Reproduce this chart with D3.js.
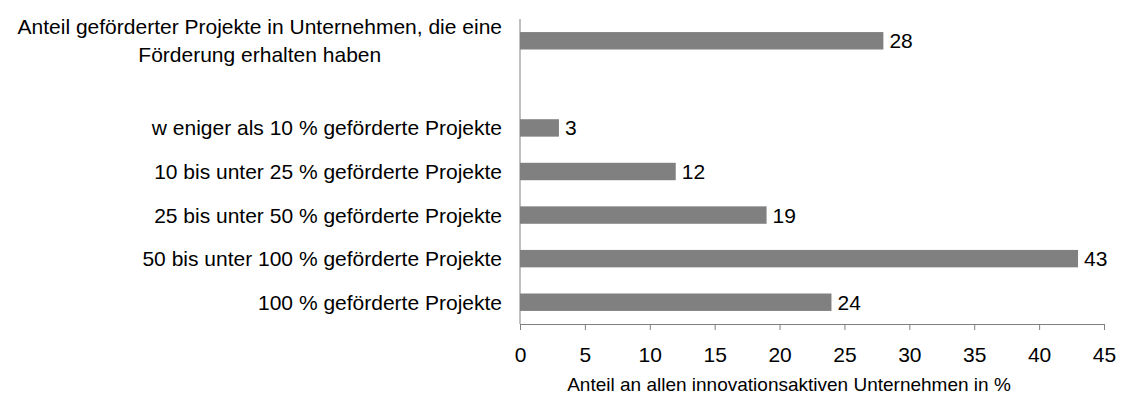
<!DOCTYPE html>
<html>
<head>
<meta charset="utf-8">
<script src="https://cdn.jsdelivr.net/npm/d3@7"></script>
<style>
  html, body { margin: 0; padding: 0; background: #fff; }
  svg { display: block; font-family: "Liberation Sans", Arial, sans-serif; }
</style>
</head>
<body>
<svg id="chart" width="1122" height="399"></svg>
<script>
// Category rows, top to bottom ("" is an empty spacer row)
const categories = [
  "Anteil geförderter Projekte in Unternehmen, die eine|Förderung erhalten haben",
  "",
  "w eniger als 10 % geförderte Projekte",
  "10 bis unter 25 % geförderte Projekte",
  "25 bis unter 50 % geförderte Projekte",
  "50 bis unter 100 % geförderte Projekte",
  "100 % geförderte Projekte"
];
const values = [28, null, 3, 12, 19, 43, 24];
const xTicks = [0, 5, 10, 15, 20, 25, 30, 35, 40, 45];
const xTitle = "Anteil an allen innovationsaktiven Unternehmen in %";

const FS = 21;
const svg = d3.select("#chart");
const margin = { left: 520, right: 18, top: 19, bottom: 75 };
const W = 1122, H = 399;

const x = d3.scaleLinear().domain([0, 45]).range([margin.left, W - margin.right]);
const y = d3.scaleBand()
  .domain(d3.range(categories.length))
  .range([margin.top, H - margin.bottom])
  .paddingInner(0.6)
  .paddingOuter(0.3);

const rows = categories.map((c, i) => ({ label: c, value: values[i], i }));

// Bars
svg.append("g").selectAll("rect")
  .data(rows.filter(d => d.value != null))
  .join("rect")
  .attr("x", x(0))
  .attr("y", d => y(d.i))
  .attr("width", d => x(d.value) - x(0))
  .attr("height", y.bandwidth())
  .attr("fill", "#808080");

// Value labels
svg.append("g").selectAll("text")
  .data(rows.filter(d => d.value != null))
  .join("text")
  .attr("x", d => x(d.value) + 6)
  .attr("y", d => y(d.i) + y.bandwidth() / 2)
  .attr("dy", "0.36em")
  .attr("font-size", FS)
  .attr("fill", "#000")
  .text(d => d3.format("d")(d.value));

// X axis
const xAxis = svg.append("g")
  .attr("transform", `translate(0,${H - margin.bottom})`)
  .call(d3.axisBottom(x).tickValues(xTicks).tickSize(6).tickPadding(17).tickSizeOuter(0));
xAxis.select(".domain").attr("stroke", "#808080");
xAxis.selectAll(".tick line").attr("stroke", "#808080");
xAxis.selectAll(".tick text")
  .attr("font-size", FS)
  .attr("font-family", "Liberation Sans, Arial, sans-serif")
  .attr("fill", "#000");

// Y axis line
svg.append("line")
  .attr("x1", x(0)).attr("x2", x(0))
  .attr("y1", margin.top).attr("y2", H - margin.bottom)
  .attr("stroke", "#808080");

// Category labels
const labelX = x(0) - 18;
const catG = svg.append("g").attr("font-size", FS).attr("fill", "#000");
rows.forEach(d => {
  if (!d.label) return;
  const cy = y(d.i) + y.bandwidth() / 2;
  const lines = d.label.split("|");
  if (lines.length === 1) {
    catG.append("text")
      .attr("x", labelX).attr("y", cy).attr("dy", "0.36em")
      .attr("text-anchor", "end").text(lines[0]);
  } else {
    // Wrapped label: lines centred on the first line, which ends at the label edge
    const first = catG.append("text")
      .attr("text-anchor", "end").attr("x", labelX)
      .attr("y", cy - 14).attr("dy", "0.36em").text(lines[0]);
    const w = first.node().getComputedTextLength();
    const mid = labelX - w / 2;
    first.attr("text-anchor", "middle").attr("x", mid);
    lines.slice(1).forEach((ln, k) => {
      catG.append("text")
        .attr("x", mid).attr("y", cy - 14 + 28 * (k + 1)).attr("dy", "0.36em")
        .attr("text-anchor", "middle").text(ln);
    });
  }
});

// X axis title
svg.append("text")
  .attr("x", (x(0) + x(45)) / 2 - 23)
  .attr("y", 391)
  .attr("text-anchor", "middle")
  .attr("font-size", 19)
  .attr("fill", "#000")
  .text(xTitle);
</script>
</body>
</html>
